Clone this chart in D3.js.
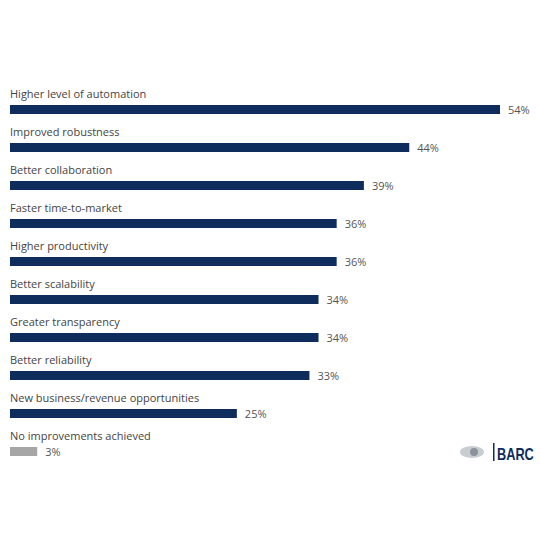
<!DOCTYPE html>
<html><head><meta charset="utf-8">
<script src="https://cdn.jsdelivr.net/npm/d3@7"></script>
<style>body{margin:0;background:#fff}</style></head>
<body><svg id="c" width="540" height="540"></svg>
<script>
const categories=["Higher level of automation","Improved robustness","Better collaboration","Faster time-to-market","Higher productivity","Better scalability","Greater transparency","Better reliability","New business/revenue opportunities","No improvements achieved"];
const values=[54,44,39,36,36,34,34,33,25,3];
const svg=d3.select("#c");
const x=d3.scaleLinear().domain([0,54]).range([10,500]);
const y=d3.scaleBand().domain(categories).range([86,466]);
const g=svg.selectAll("g.r").data(categories).join("g");
g.append("text").attr("x",10).attr("y",d=>y(d)+12).text(d=>d)
 .attr("font-family","Open Sans").attr("font-size",11).attr("fill","#444");
g.append("rect").attr("x",x(0)).attr("y",d=>y(d)+19).attr("height",9)
 .attr("width",(d,i)=>x(values[i])-x(0)).attr("fill",(d,i)=>i===9?"#a6a6a6":"#0f2d5c");
g.append("text").attr("x",(d,i)=>x(values[i])+8).attr("y",d=>y(d)+28).text((d,i)=>values[i]+"%")
 .attr("font-family","Open Sans").attr("font-size",11).attr("fill","#555");
// logo
const L=svg.append("g");
L.append("ellipse").attr("cx",472).attr("cy",452).attr("rx",12).attr("ry",6).attr("fill","#c9ccd1");
L.append("circle").attr("cx",474).attr("cy",452).attr("r",4).attr("fill","#8d939b");
L.append("rect").attr("x",493).attr("y",443).attr("width",1.5).attr("height",18).attr("fill","#0f2d5c");
L.append("text").attr("transform","translate(497,460) scale(0.75,1)").text("BARC").attr("font-family","Liberation Sans").attr("font-weight","bold")
 .attr("font-size",17).attr("fill","#0f2d5c");
</script></body></html>
